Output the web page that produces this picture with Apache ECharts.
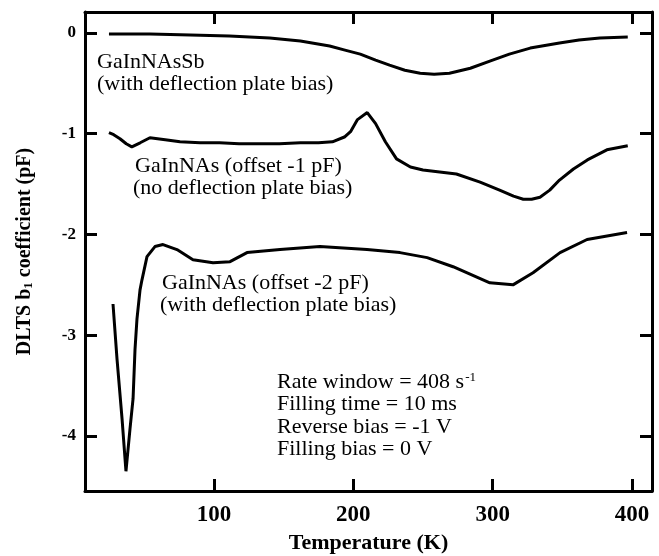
<!DOCTYPE html>
<html>
<head>
<meta charset="utf-8">
<script src="https://cdn.jsdelivr.net/npm/echarts@6/dist/echarts.min.js"></script>
<style>
  html, body { margin: 0; padding: 0; background: #fff; }
  #main { width: 659px; height: 556px; }
</style>
</head>
<body>
<div id="main"></div>
<script>
// temperatures (K) and DLTS b1 values (pF)
var tempSb = [24.6, 54, 83, 111, 140, 162, 183, 194, 205, 216, 226, 237, 248, 258, 269, 284, 298, 312, 327, 348, 362, 377, 397];
var valSb  = [-0.01, -0.01, -0.02, -0.03, -0.05, -0.08, -0.13, -0.17, -0.21, -0.27, -0.32, -0.37, -0.40, -0.41, -0.40, -0.35, -0.28, -0.21, -0.15, -0.10, -0.07, -0.05, -0.04];

var tempNoBias = [24.6, 28, 32.5, 37, 41, 47, 54, 65, 75.6, 90, 104, 118, 133, 147, 162, 175, 185, 194, 198, 203, 210, 216, 223, 231, 241, 250, 262, 274, 291, 305, 315, 322, 328, 334, 341, 348, 358, 368, 382, 397];
var valNoBias  = [-0.99, -1.01, -1.05, -1.10, -1.13, -1.09, -1.04, -1.06, -1.08, -1.09, -1.09, -1.10, -1.10, -1.10, -1.09, -1.09, -1.08, -1.03, -0.98, -0.86, -0.79, -0.90, -1.08, -1.25, -1.33, -1.36, -1.38, -1.40, -1.48, -1.56, -1.62, -1.65, -1.65, -1.63, -1.56, -1.46, -1.35, -1.26, -1.16, -1.12];

var tempBias = [27.5, 30.4, 34, 36.8, 39.7, 41.9, 43.3, 44.7, 46.9, 48.3, 51.9, 57.6, 63.4, 73.4, 84.9, 99.3, 111.5, 123.7, 147.4, 176, 209.8, 233.5, 253, 271.6, 298, 314.6, 329, 348.4, 367.8, 396.5];
var valBias  = [-2.69, -3.24, -3.83, -4.35, -3.93, -3.63, -3.14, -2.84, -2.55, -2.45, -2.22, -2.12, -2.10, -2.15, -2.25, -2.28, -2.27, -2.18, -2.15, -2.12, -2.15, -2.18, -2.23, -2.32, -2.48, -2.50, -2.38, -2.18, -2.05, -1.98];

var xTicks = [100, 200, 300, 400];
var yTicks = [0, -1, -2, -3, -4];

var notes = [
    {x: 97, y: 63, t: 'GaInNAsSb'},
    {x: 97, y: 85, t: '(with deflection plate bias)'},
    {x: 135, y: 167, t: 'GaInNAs (offset -1 pF)'},
    {x: 133, y: 189, t: '(no deflection plate bias)'},
    {x: 162, y: 284, t: 'GaInNAs (offset -2 pF)'},
    {x: 160, y: 306, t: '(with deflection plate bias)'},
    {x: 277, y: 383, t: 'Rate window = 408 s{sup|-1}'},
    {x: 277, y: 405, t: 'Filling time = 10 ms'},
    {x: 277, y: 428, t: 'Reverse bias = -1 V'},
    {x: 277, y: 450, t: 'Filling bias = 0 V'}
];

function pairs(xs, ys) {
    var out = [];
    for (let i = 0; i < xs.length; i++) {
        out.push([xs[i], ys[i]]);
    }
    return out;
}

var myChart = echarts.init(document.getElementById('main'), null, {renderer: 'canvas'});

var serif = 'Liberation Serif';
var xMin = 7.4, xMax = 414.4, yMin = -4.546, yMax = 0.208;

function xAx(pos, labels) {
    return {
        type: 'value', position: pos, min: xMin, max: xMax,
        axisLine: {show: true, onZero: false, lineStyle: {color: '#000', width: 3}},
        axisTick: {show: true, inside: true, length: 12, customValues: xTicks, lineStyle: {color: '#000', width: 3}},
        axisLabel: {show: labels, customValues: xTicks, margin: 13, color: '#000',
            fontFamily: serif, fontWeight: 'bold', fontSize: 23},
        splitLine: {show: false}
    };
}

function yAx(pos, labels) {
    return {
        type: 'value', position: pos, min: yMin, max: yMax,
        axisLine: {show: true, onZero: false, lineStyle: {color: '#000', width: 3}},
        axisTick: {show: true, inside: true, length: 12, customValues: yTicks, lineStyle: {color: '#000', width: 3}},
        axisLabel: {show: labels, customValues: yTicks, margin: 9, color: '#000',
            fontFamily: serif, fontWeight: 'bold', fontSize: 17},
        splitLine: {show: false}
    };
}

var xBottom = xAx('bottom', true);
xBottom.name = 'Temperature (K)';
xBottom.nameLocation = 'middle';
xBottom.nameGap = 41;
xBottom.nameTextStyle = {color: '#000', fontFamily: serif, fontWeight: 'bold', fontSize: 22};

var yLeft = yAx('left', true);
yLeft.name = 'DLTS b{sub|1} coefficient (pF)';
yLeft.nameLocation = 'middle';
yLeft.nameGap = 50;
yLeft.nameTextStyle = {
    color: '#000', fontFamily: serif, fontWeight: 'bold', fontSize: 20,
    rich: {sub: {fontFamily: serif, fontWeight: 'bold', fontSize: 13, verticalAlign: 'bottom', padding: [8, 0, 0, 0]}}
};

var lineStyle = {color: '#000', width: 3};

var option = {
    animation: false,
    backgroundColor: '#fff',
    grid: {left: 85, right: 7, top: 12, bottom: 65, containLabel: false, outerBoundsMode: 'none'},
    xAxis: [xBottom, xAx('top', false)],
    yAxis: [yLeft, yAx('right', false)],
    series: [
        {name: 'GaInNAsSb', type: 'line', symbol: 'none', data: pairs(tempSb, valSb), lineStyle: lineStyle},
        {name: 'GaInNAs no bias', type: 'line', symbol: 'none', data: pairs(tempNoBias, valNoBias), lineStyle: lineStyle},
        {name: 'GaInNAs bias', type: 'line', symbol: 'none', data: pairs(tempBias, valBias), lineStyle: lineStyle}
    ],
    graphic: notes.map(function (n) {
        return {
            type: 'text', left: n.x, top: n.y - 12,
            style: {
                text: n.t, fill: '#000', font: '22px "Liberation Serif"',
                rich: {sup: {fontSize: 13, fontFamily: serif, verticalAlign: 'top', padding: [0, 0, 9, 1]}}
            }
        };
    })
};

myChart.setOption(option);
</script>
</body>
</html>
